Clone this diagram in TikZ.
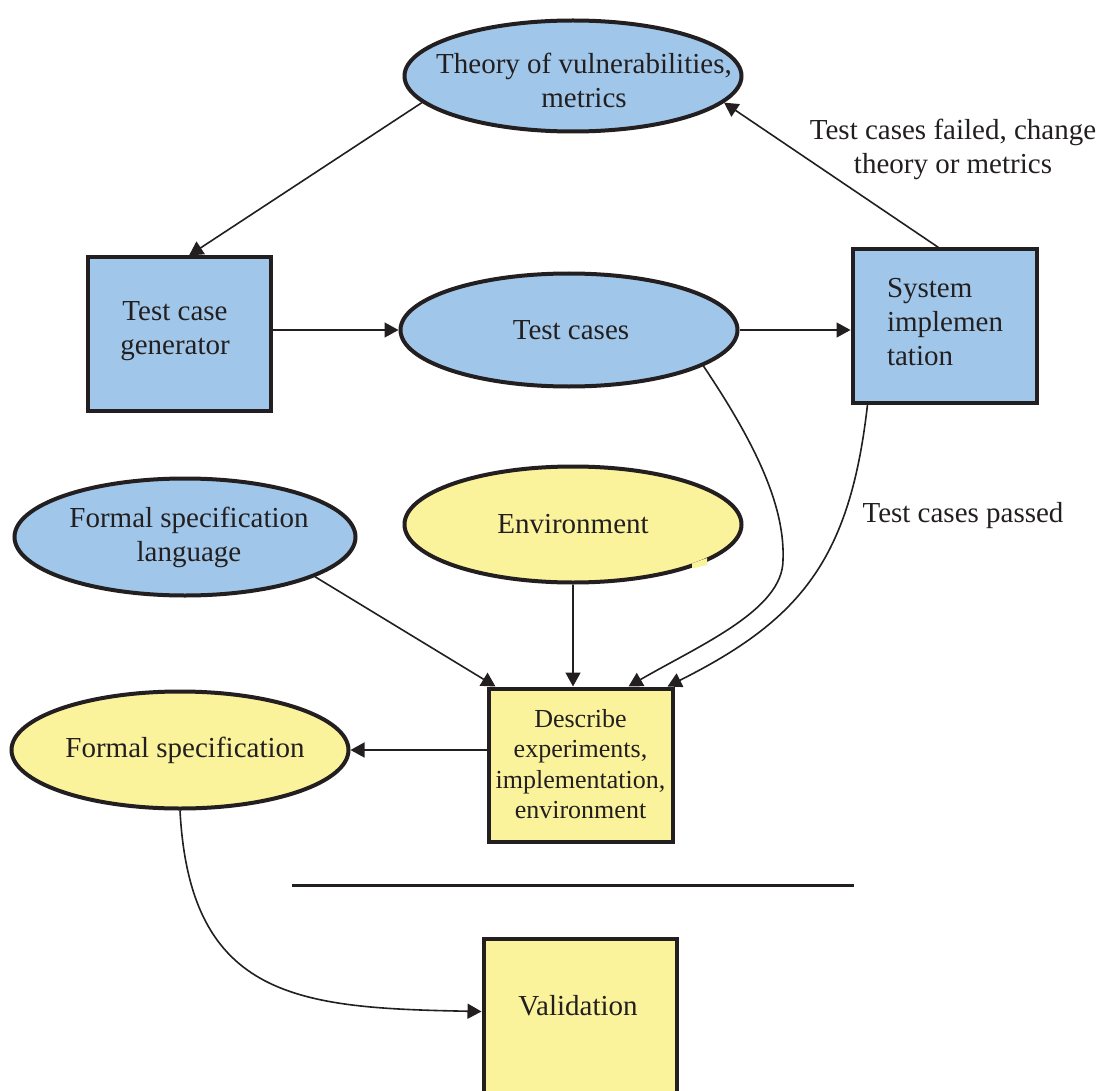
\documentclass[tikz,border=0pt]{standalone}
\usepackage{fontspec}
\setmainfont{Liberation Serif}
\usetikzlibrary{shapes.geometric,arrows.meta,calc}
\definecolor{bluef}{RGB}{160,199,233}
\definecolor{yelf}{RGB}{250,243,155}
\definecolor{ink}{RGB}{35,31,32}
\begin{document}
\begin{tikzpicture}[x=1pt,y=-1pt,
  txt/.style={font=\fontsize{29}{34}\selectfont, text=ink, align=center, inner sep=0pt},
  smalltxt/.style={font=\fontsize{26}{30.5}\selectfont, text=ink, align=center, inner sep=0pt},
  ell/.style={ellipse, draw=ink, line width=4pt, inner sep=0pt},
  box/.style={rectangle, draw=ink, line width=4pt, inner sep=0pt},
  conn/.style={draw=ink, line width=1.6pt, -{Triangle[length=14pt,width=15pt]}},
]
\useasboundingbox (0,0) rectangle (1105,1091);
\fill[white] (0,0) rectangle (1105,1091);

% ellipses
\node[ell, fill=bluef, minimum width=337pt, minimum height=111pt] (theory) at (573,76) {};
\node[txt] (theoryT) at (584,80.5) {Theory of vulnerabilities,\\metrics};
\node[ell, fill=bluef, minimum width=337pt, minimum height=113pt] (tc) at (569,330) {};
\node[txt] (tcT) at (571,330) {Test cases};
\node[ell, fill=bluef, minimum width=341pt, minimum height=117pt] (fsl) at (185,537) {};
\node[txt] (fslT) at (189,537) {Formal specification\\language};
\node[ell, fill=yelf, minimum width=337pt, minimum height=116pt] (env) at (573,524.5) {};
\node[txt] (envT) at (573,524) {Environment};
\fill[yelf] (692,563.5) -- (707,558) -- (707,565) -- (692,568.5) -- cycle;
\node[ell, fill=yelf, minimum width=337pt, minimum height=117pt] (fs) at (180,750) {};
\node[txt] (fsT) at (185,750) {Formal specification};

% boxes
\node[box, fill=bluef, minimum width=183pt, minimum height=153pt] (gen) at (179,334) {};
\node[txt] (genT) at (175,331) {Test case\\generator};
\node[box, fill=bluef, minimum width=184pt, minimum height=153pt] (sys) at (944.5,326) {};
\node[txt, align=left] (sysT) at (945,322.5) {System\\implemen\\tation};
\node[box, fill=yelf, minimum width=184pt, minimum height=153pt] (desc) at (580.5,765) {};
\node[smalltxt] (descT) at (580.5,764) {Describe\\experiments,\\implementation,\\environment};
\begin{scope}
\clip (0,0) rectangle (1105,1091);
\node[box, fill=yelf, minimum width=193pt, minimum height=220pt, anchor=north] (val) at (580,936.5) {};
\end{scope}
\node[txt] (valT) at (578,1006) {Validation};

% labels
\node[txt] (failT) at (953,149) {Test cases failed, change\\theory or metrics};
\node[txt] (passT) at (963,516) {Test cases passed};

% separator
\coordinate (sepL) at (292,885);
\coordinate (sepR) at (854,885);
\draw[ink, line width=3pt] (sepL) -- (sepR);

% connectors
\draw[conn] (theory.190) -- ($(gen.north)+(10,0)$);
\draw[conn] (gen.east |- tc.west) -- (tc.west);
\draw[conn] (tc.east) -- (tc.east -| sys.west);
\draw[conn] ($(sys.north)+(-6,0)$) -- (theory.-10);
\draw[conn] (tc.-15) .. controls (760,450) and (785,510) .. (783,560)
            .. controls (783,610) and (700,645) .. ($(desc.north)+(48,0)$);
\draw[conn] ($(sys.south)+(-77,0)$) .. controls (850,560) and (800,620) .. ($(desc.north)+(87,0)$);
\draw[conn] (fsl.-17.5) -- ($(desc.north west)+(9,0)$);
\draw[conn] (env.south) -- (env.south |- desc.north);
\draw[conn] (desc.west |- fs.east) -- (fs.east);
\draw[conn] (fs.south) .. controls (190,1000) and (300,1008) .. ($(val.north west)+(0,75)$);
\end{tikzpicture}
\end{document}
